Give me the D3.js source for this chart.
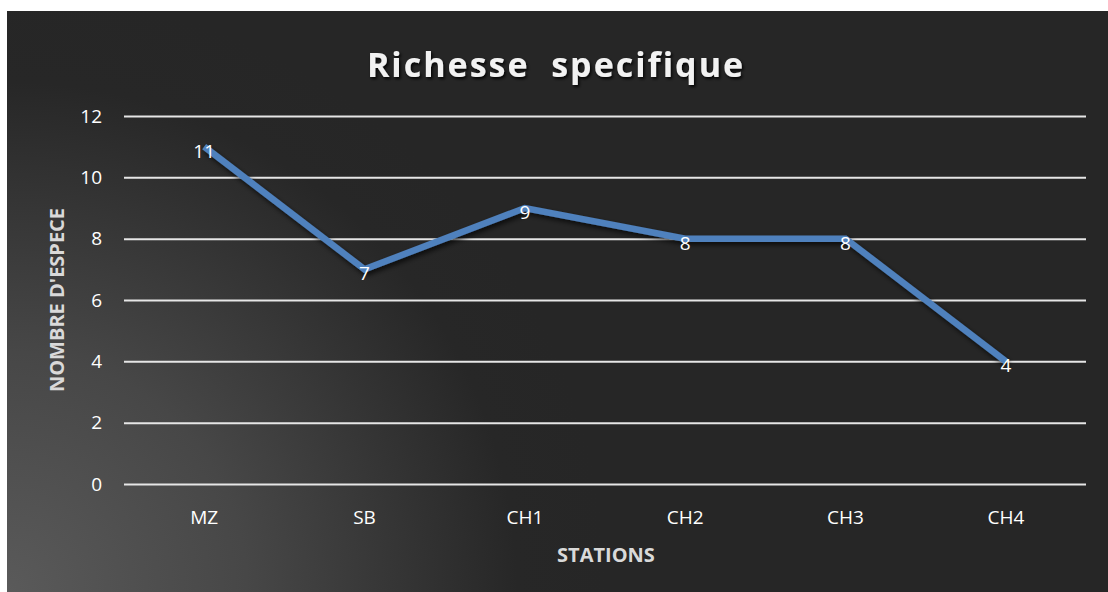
<!DOCTYPE html>
<html>
<head>
<meta charset="utf-8">
<script src="https://cdn.jsdelivr.net/npm/d3@7"></script>
<style>
  html, body { margin: 0; padding: 0; background: #ffffff; }
  svg { display: block; }
  text { font-family: "Open Sans", "Noto Sans", sans-serif; }
</style>
</head>
<body>
<svg id="chart" width="1108" height="592"></svg>
<script>
// Species richness per sampling station
const stations = ["MZ", "SB", "CH1", "CH2", "CH3", "CH4"];
const speciesCount = [11, 7, 9, 8, 8, 4];
const yTicks = [0, 2, 4, 6, 8, 10, 12];

const W = 1108, H = 592;
const svg = d3.select("#chart");
const defs = svg.append("defs");

// Dark panel lit from the lower-left corner
const grad = defs.append("radialGradient")
  .attr("id", "bgGrad")
  .attr("gradientUnits", "userSpaceOnUse")
  .attr("cx", 7).attr("cy", 592).attr("r", 600);
grad.append("stop").attr("offset", "0%").attr("stop-color", "#5a5a5a");
grad.append("stop").attr("offset", "40%").attr("stop-color", "#474747");
grad.append("stop").attr("offset", "85%").attr("stop-color", "#272727");
grad.append("stop").attr("offset", "100%").attr("stop-color", "#262626");

const shadow = defs.append("filter").attr("id", "lineShadow")
  .attr("x", "-10%").attr("y", "-10%").attr("width", "120%").attr("height", "130%");
shadow.append("feDropShadow").attr("dx", 2).attr("dy", 3).attr("stdDeviation", 2.5)
  .attr("flood-color", "#000").attr("flood-opacity", 0.7);

const titleShadow = defs.append("filter").attr("id", "titleShadow")
  .attr("x", "-10%").attr("y", "-20%").attr("width", "120%").attr("height", "150%");
titleShadow.append("feDropShadow").attr("dx", 1.5).attr("dy", 2).attr("stdDeviation", 1.5)
  .attr("flood-color", "#000").attr("flood-opacity", 0.9);

svg.append("rect").attr("x", 7).attr("y", 11).attr("width", W - 7).attr("height", H - 11)
  .attr("fill", "url(#bgGrad)");

const margin = { left: 124, right: 1086, top: 116, bottom: 484 };

const x = d3.scaleBand().domain(stations).range([margin.left, margin.right]);
const y = d3.scaleLinear().domain([0, 12]).range([margin.bottom, margin.top]);

// Horizontal gridlines with tick values
const yAxis = d3.axisLeft(y).tickValues(yTicks)
  .tickSize(-(margin.right - margin.left)).tickPadding(22);
const gy = svg.append("g").attr("transform", `translate(${margin.left},0)`).call(yAxis);
gy.select(".domain").remove();
gy.selectAll(".tick line").attr("stroke", "#e6e6e6").attr("stroke-width", 2);
gy.selectAll(".tick text").attr("fill", "#ffffff").attr("font-size", 19)
  .attr("font-family", "'Open Sans', sans-serif");

// Station names
const xAxis = d3.axisBottom(x).tickSize(0).tickPadding(27);
const gx = svg.append("g").attr("transform", `translate(0,${margin.bottom})`).call(xAxis);
gx.select(".domain").remove();
gx.selectAll(".tick text").attr("fill", "#ffffff").attr("font-size", 19)
  .attr("font-family", "'Open Sans', sans-serif");

// Series line
const line = d3.line()
  .x((d, i) => x(stations[i]) + x.bandwidth() / 2)
  .y(d => y(d));

svg.append("path").datum(speciesCount)
  .attr("d", line)
  .attr("fill", "none")
  .attr("stroke", "#4f81bd")
  .attr("stroke-width", 6.5)
  .attr("stroke-linejoin", "miter")
  .attr("stroke-linecap", "butt")
  .attr("filter", "url(#lineShadow)");

// Value labels on each point
svg.append("g").selectAll("text").data(speciesCount).join("text")
  .attr("x", (d, i) => x(stations[i]) + x.bandwidth() / 2)
  .attr("y", d => y(d) + 11)
  .attr("text-anchor", "middle")
  .attr("fill", "#ffffff")
  .attr("font-size", 19)
  .text(d => d);

// Title
svg.append("text")
  .attr("x", 556).attr("y", 77)
  .attr("text-anchor", "middle")
  .attr("fill", "#f2f2f2")
  .attr("font-size", 34)
  .attr("font-weight", "bold")
  .attr("letter-spacing", 2)
  .attr("filter", "url(#titleShadow)")
  .attr("xml:space", "preserve")
  .style("white-space", "pre")
  .text("Richesse  specifique");

// Axis titles
svg.append("text")
  .attr("x", 606).attr("y", 562)
  .attr("text-anchor", "middle")
  .attr("fill", "#d9d9d9")
  .attr("font-size", 20)
  .attr("font-weight", "bold")
  .text("STATIONS");

svg.append("text")
  .attr("transform", "translate(64,300) rotate(-90)")
  .attr("text-anchor", "middle")
  .attr("fill", "#d9d9d9")
  .attr("font-size", 20)
  .attr("font-weight", "bold")
  .text("NOMBRE D'ESPECE");
</script>
</body>
</html>
